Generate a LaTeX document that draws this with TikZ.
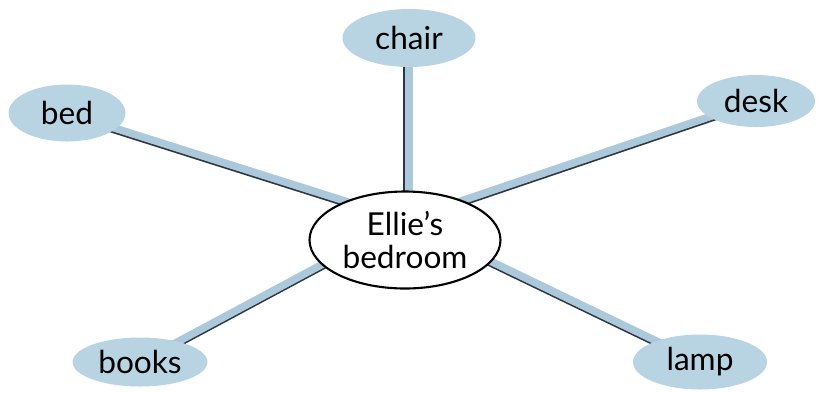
\documentclass[tikz,border=0pt]{standalone}
\usepackage{fontspec}
\setmainfont{Lato}
\usetikzlibrary{positioning, shapes.geometric, backgrounds}
\usepackage{xcolor}
\definecolor{leafblue}{RGB}{184,212,227}
\definecolor{barblue}{RGB}{172,201,220}
\definecolor{barshade}{RGB}{45,55,65}

\begin{document}
\begin{tikzpicture}[
        font=\fontsize{18}{19}\selectfont,
        leaf/.style={ellipse, fill=leafblue, inner sep=0pt, align=center},
        hubnode/.style={ellipse, draw=black, line width=1.2pt, fill=white, inner sep=0pt, align=center},
        bar/.style={draw=barblue, line width=0.15cm},
        barshadow/.style={draw=barshade, line width=0.15cm}
      ]
        \useasboundingbox (0,0) rectangle (16.42,-7.84);
        \coordinate (mid) at (8.10,-4.40);

        \node[leaf, minimum width=2.66cm, minimum height=1.16cm] (chair) at (8.18,-0.76) {chair};
        \node[leaf, minimum width=2.34cm, minimum height=1.14cm] (bed) at (1.34,-2.26) {bed};
        \node[leaf, minimum width=2.36cm, minimum height=1.04cm] (desk) at (15.12,-2.02) {desk};
        \node[leaf, minimum width=2.70cm, minimum height=0.98cm] (books) at (2.80,-7.24) {books};
        \node[leaf, minimum width=2.68cm, minimum height=1.10cm] (lamp) at (14.00,-7.24) {lamp};
        \node[hubnode, minimum width=3.82cm, minimum height=1.94cm] (hub) at (8.10,-4.80) {Ellie's\\bedroom};

        % spokes behind the nodes
        \begin{pgfonlayer}{background}
        \foreach \n in {bed, desk, books, lamp} {
            \draw[barshadow] ([yshift=-1pt]\n.center) -- ([yshift=-1pt]mid);
            \draw[bar] (\n.center) -- (mid);
        }
        \draw[barshadow] ([xshift=-1pt]chair.center) -- ([xshift=-1pt]chair.center |- mid);
        \draw[bar] (chair.center) -- (chair.center |- mid);
        \end{pgfonlayer}
    \end{tikzpicture}
\end{document}
